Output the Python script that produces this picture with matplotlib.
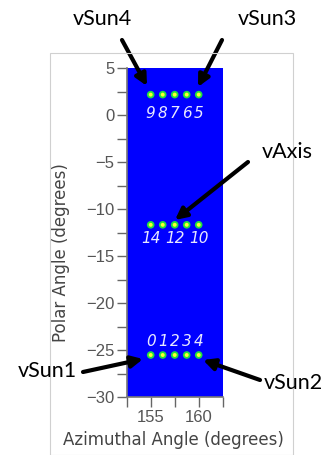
import numpy as np
import matplotlib
matplotlib.use('Agg')
import matplotlib.pyplot as plt
from matplotlib.patches import Rectangle

# sun vector / axis spots (azimuth, polar)
azim = [155.0, 156.25, 157.5, 158.75, 160.0]
polar_top = 2.2
polar_mid = -11.65
polar_bot = -25.5
labels_top = ['9', '8', '7', '6', '5']
labels_mid = ['14', '', '12', '', '10']
labels_bot = ['0', '1', '2', '3', '4']

# callouts: text, text pos (px), arrow tail (px), arrow head (px)
callouts = [
    ('vSun4', (102, 19), (122, 40), (147, 86)),
    ('vSun3', (267, 19), (222, 40), (198, 87)),
    ('vAxis', (287, 152), (248, 162), (175, 220)),
    ('vSun1', (47, 371), (83, 372), (143, 359)),
    ('vSun2', (293, 383), (260, 380), (203, 360)),
]

W, H = 331, 455
fig = plt.figure(figsize=(W/100, H/100), dpi=100)
fig.patch.set_facecolor('white')

# light frame around the embedded plot image
fig.patches.append(Rectangle((50/W, 0), (293-50)/W, 1-52.7/H, transform=fig.transFigure,
                             fill=False, edgecolor='#d0d0d0', lw=0.8))

ax = fig.add_axes([126.7/W, 1-397.3/H, 96/W, 329/H])
ax.set_facecolor('#0000ff')
ax.set_xlim(152.5, 162.5)
ax.set_ylim(-30, 5)
ax.set_xticks([152.5, 155, 157.5, 160, 162.5])
ax.set_xticklabels(['', '155', '', '160', ''])
yt = np.arange(-30, 5.1, 2.5)
ax.set_yticks(yt)
ax.set_yticklabels([('\u2212%d' % -v if v < 0 else '%d' % v) if v % 5 == 0 else '' for v in yt])
ax.tick_params(direction='out', length=7, width=1, pad=2, colors='#666666', labelcolor='#555555')
for lab in ax.get_xticklabels() + ax.get_yticklabels():
    lab.set_family('Liberation Sans')
    lab.set_fontsize(12)
for s in ['top', 'right']:
    ax.spines[s].set_visible(False)
for s in ['left', 'bottom']:
    ax.spines[s].set_color('#777777')
    ax.spines[s].set_linewidth(1.2)

ax.set_xlabel('Azimuthal Angle (degrees)', fontsize=12, color='#444444')
ax.set_ylabel('Polar Angle (degrees)', fontsize=12, color='#444444')
ax.xaxis.set_label_coords(0.49, -0.103)
ax.yaxis.set_label_coords(-0.59, 0.44)

for py, labs, dy in [(polar_top, labels_top, -2.0), (polar_mid, labels_mid, -1.5), (polar_bot, labels_bot, 1.4)]:
    ys = [py]*len(azim)
    ax.scatter(azim, ys, s=30, color='#20e040', edgecolors='none', zorder=3)
    ax.scatter(azim, ys, s=8, color='#ffff30', edgecolors='none', zorder=4)
    for x, t in zip(azim, labs):
        ax.text(x, py+dy, t, color='#e8e8ff', fontsize=11, style='italic',
                ha='center', va='center', zorder=5)

for txt, tp, tail, head in callouts:
    fig.text(tp[0]/W, 1-tp[1]/H, txt, fontsize=15.5, family='Lato', ha='center', va='center', color='black')
    ax.annotate('', xy=(head[0], H-head[1]), xycoords='figure pixels',
                xytext=(tail[0], H-tail[1]), textcoords='figure pixels',
                arrowprops=dict(arrowstyle='-|>', color='black', lw=3, mutation_scale=17,
                                shrinkA=0, shrinkB=0), annotation_clip=False)

fig.savefig('out.png', dpi=100)
